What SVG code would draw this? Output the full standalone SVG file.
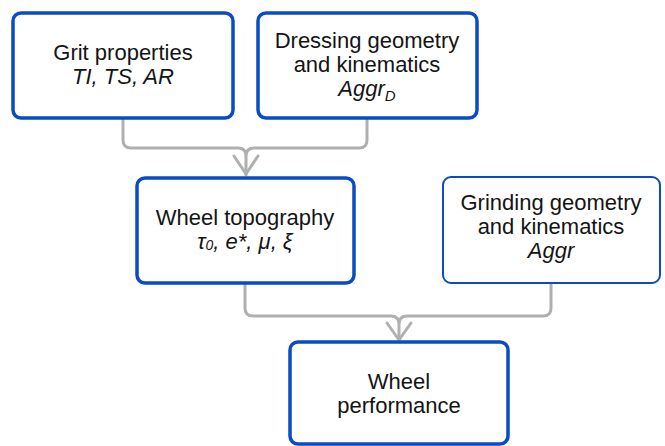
<svg xmlns="http://www.w3.org/2000/svg" width="665" height="446" viewBox="0 0 665 446">
  <defs>
    <style>
      .box { fill: #ffffff; stroke: #0a4cc2; stroke-width: 3.5; }
      .thin { stroke-width: 2; }
      .lbl { font-family: "Liberation Sans", Arial, sans-serif; font-size: 22px; fill: #141414; text-anchor: middle; }
      .it { font-style: italic; }
      .conn { fill: none; stroke: #b0b0b0; stroke-width: 3; stroke-linejoin: round; stroke-linecap: round; }
    </style>
  </defs>
  <rect width="665" height="446" fill="#ffffff"/>

  <g id="connectors">
    <path class="conn" d="M123,120 V140 Q123,148 131,148 H238 Q246,148 246,156 V175 M246,156 Q246,148 254,148 H359 Q367,148 367,140 V120"/>
    <path class="conn" d="M234,156 L246,174 L258,156"/>
    <path class="conn" d="M245,285 V308 Q245,316 253,316 H391 Q399,316 399,324 V339 M399,324 Q399,316 407,316 H543 Q551,316 551,308 V285"/>
    <path class="conn" d="M387,323 L399,340 L411,323"/>
  </g>

  <g id="grit">
    <rect class="box" x="13" y="13" width="220" height="105" rx="8"/>
    <text class="lbl" x="123" y="60">Grit properties</text>
    <text class="lbl it" x="123" y="84">TI, TS, AR</text>
  </g>

  <g id="dressing">
    <rect class="box" x="258" y="13" width="219" height="105" rx="8"/>
    <text class="lbl" x="367" y="48">Dressing geometry</text>
    <text class="lbl" x="367" y="72">and kinematics</text>
    <text class="lbl it" x="367" y="96">Aggr<tspan font-size="15" dy="5">D</tspan></text>
  </g>

  <g id="topography">
    <rect class="box" x="137" y="178" width="217" height="105" rx="8"/>
    <text class="lbl" x="245" y="225">Wheel topography</text>
    <text class="lbl it" x="245" y="249">τ<tspan font-size="14" dy="1">0</tspan><tspan dy="-1">, e*, μ, ξ</tspan></text>
  </g>

  <g id="grinding">
    <rect class="box thin" x="443" y="177" width="217" height="106" rx="8"/>
    <text class="lbl" x="551" y="210">Grinding geometry</text>
    <text class="lbl" x="551" y="234">and kinematics</text>
    <text class="lbl it" x="551" y="258">Aggr</text>
  </g>

  <g id="performance">
    <rect class="box" x="290" y="342" width="218" height="102" rx="8"/>
    <text class="lbl" x="399" y="389">Wheel</text>
    <text class="lbl" x="399" y="413">performance</text>
  </g>
</svg>
